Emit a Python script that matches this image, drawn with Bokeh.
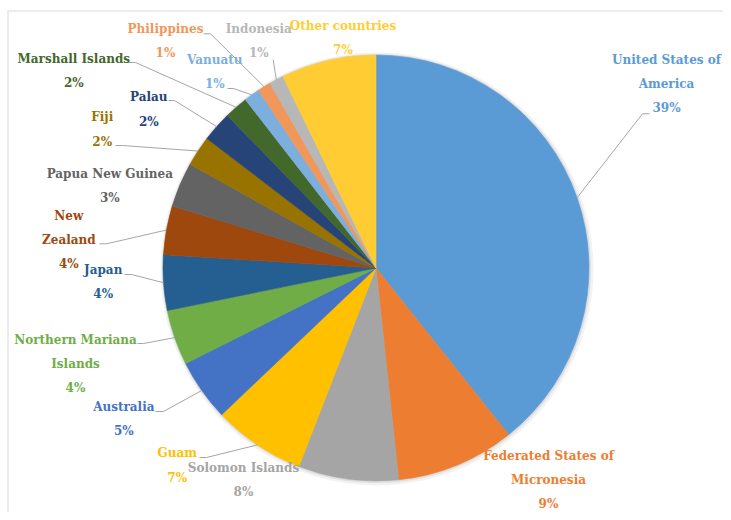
import math
from bokeh.plotting import figure
from bokeh.models import Range1d, ColumnDataSource
from bokeh.core.properties import value
from bokeh.embed import file_html
from bokeh.resources import INLINE

# ---- data ----
countries = ["United States of America", "Federated States of Micronesia", "Solomon Islands",
             "Guam", "Australia", "Northern Mariana Islands", "Japan", "New Zealand",
             "Papua New Guinea", "Fiji", "Palau", "Marshall Islands", "Vanuatu",
             "Philippines", "Indonesia", "Other countries"]
shares = [39.3, 9.0, 7.6, 7.0, 4.7, 4.2, 4.2, 3.7, 3.4, 2.3, 2.3, 1.8, 1.2, 1.0, 1.1, 7.2]
label_lines = [["United States of", "America"], ["Federated States of", "Micronesia"],
               ["Solomon Islands"], ["Guam"], ["Australia"], ["Northern Mariana", "Islands"],
               ["Japan"], ["New", "Zealand"], ["Papua New Guinea"], ["Fiji"], ["Palau"],
               ["Marshall Islands"], ["Vanuatu"], ["Philippines"], ["Indonesia"],
               ["Other countries"]]

# ---- styles ----
colors = ["#5B9BD5", "#ED7D31", "#A5A5A5", "#FFC000", "#4472C4", "#70AD47", "#255E91",
          "#9E480E", "#636363", "#997300", "#264478", "#43682B", "#7CAFDD", "#F1975A",
          "#B7B7B7", "#FFCD33"]
FONT = "DejaVu Serif"

# ---- layout (page pixel coordinates) ----
W, H = 723, 512
CX, CY, R = 375.5, 267.5, 213
label_pos = [(666, 59), (548, 455), (243, 467), (176.7, 452.7), (123.3, 406),
             (75, 339.3), (102.7, 269.3), (68.3, 215), (109.3, 173.3), (101.7, 116.7),
             (148.3, 96.7), (73.3, 58.3), (214.3, 59.3), (165, 28.3), (258.3, 28.3),
             (342.5, 25)]
LINE_GAP = 24.3
# leader line start points near label (None = no leader)
leader_start = [[(649, 113.3), (642, 113.3)], None, None, [(199, 457), (206, 457)],
                [(155, 411), (163, 411)], [(137, 343), (143, 343)],
                [(124, 274), (131, 274)], [(99, 243.3), (106, 243.3)], None,
                [(115, 145), (122, 145)], [(168, 100), (174, 100)],
                [(128, 62), (135, 62)], [(227, 88), (233, 88)],
                [(203, 33.3), (210, 33.3)], [(272.7, 59.3)], None]


def Y(py):
    return H - py


p = figure(width=W, height=H, x_range=Range1d(0, W), y_range=Range1d(0, H),
           output_backend="svg", toolbar_location=None, min_border=0,
           x_axis_type=None, y_axis_type=None, outline_line_color=None)
p.grid.visible = False

# chart-area border (top and left visible in the crop)
p.segment(x0=[7, 7.5], y0=[Y(10.5), Y(10.5)], x1=[W, 7.5], y1=[Y(10.5), 0],
          line_color="#D9D9D9", line_width=1)

# soft shadow
p.circle(x=[CX + 1], y=[Y(CY) - 1], radius=R + 3.5, fill_color="black", fill_alpha=0.05,
         line_color=None)
p.circle(x=[CX + 0.5], y=[Y(CY) - 0.5], radius=R + 1.5, fill_color="black", fill_alpha=0.08,
         line_color=None)

total = sum(shares)
starts, ends, mids = [], [], []
cum = 0.0
for s in shares:
    a0 = math.pi / 2 - 2 * math.pi * cum / total
    a1 = math.pi / 2 - 2 * math.pi * (cum + s) / total
    starts.append(a0)
    ends.append(a1)
    mids.append((a0 + a1) / 2)
    cum += s

src = ColumnDataSource(dict(start=starts, end=ends, color=colors, name=countries))
p.wedge(x=CX, y=Y(CY), radius=R, start_angle="start", end_angle="end", direction="clock",
        fill_color="color", line_color="color", line_width=0.6, source=src)

# leader lines
xs, ys = [], []
for i, st in enumerate(leader_start):
    if st is None:
        continue
    ex = CX + R * math.cos(mids[i])
    ey = Y(CY) + R * math.sin(mids[i])
    xs.append([pt[0] for pt in st] + [ex])
    ys.append([Y(pt[1]) for pt in st] + [ey])
p.multi_line(xs=xs, ys=ys, line_color="#A6A6A6", line_width=1)

# labels
tx, ty, tt, tc = [], [], [], []
for i, lines in enumerate(label_lines):
    x0, y0 = label_pos[i]
    all_lines = lines + ["%d%%" % round(shares[i])]
    for k, t in enumerate(all_lines):
        tx.append(x0)
        ty.append(Y(y0 + k * LINE_GAP))
        tt.append(t)
        tc.append(colors[i])
tsrc = ColumnDataSource(dict(x=tx, y=ty, text=tt, color=tc))
p.text(x="x", y="y", text="text", text_color="color", source=tsrc,
       text_font=value(FONT), text_font_size="12px", text_font_style="bold",
       text_align="center", text_baseline="middle")

open("out.html", "w").write(file_html(p, INLINE))
